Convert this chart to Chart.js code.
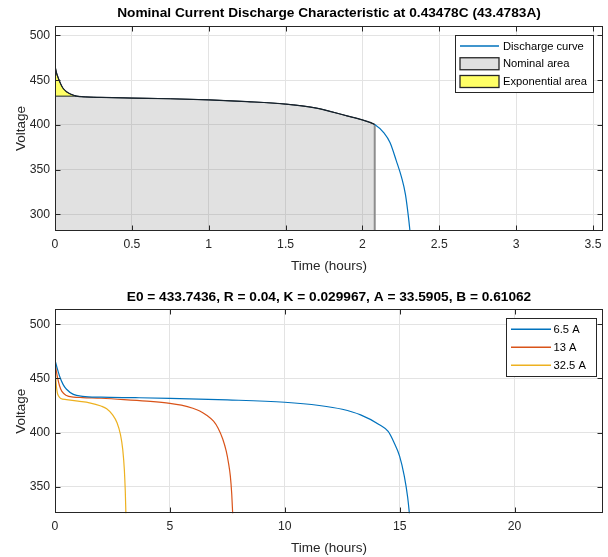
<!DOCTYPE html>
<html><head><meta charset="utf-8">
<script src="https://cdn.jsdelivr.net/npm/chart.js@4/dist/chart.umd.min.js"></script>
<style>html,body{margin:0;padding:0;background:#fff;}canvas{display:block;}</style>
</head><body>
<div style="width:608px;height:557px;">
<canvas id="topChart" width="608" height="280"></canvas>
<canvas id="botChart" width="608" height="277"></canvas>
</div>
<script>
// ---------- data ----------
const topTitle = 'Nominal Current Discharge Characteristic at 0.43478C (43.4783A)';
const botTitle = 'E0 = 433.7436, R = 0.04, K = 0.029967, A = 33.5905, B = 0.61062';
const topHours = [0, 0.01, 0.02, 0.035, 0.05, 0.075, 0.1, 0.14, 0.2, 0.3, 0.5, 0.75, 1.0, 1.25, 1.5, 1.7, 1.9, 2.0, 2.08, 2.14, 2.18, 2.22, 2.255, 2.28, 2.3, 2.31];
const topVolts = [466, 458, 453, 446.5, 441.5, 437, 434.5, 432.1, 431.2, 430.7, 430, 429.2, 428, 426, 423.2, 418.8, 410, 405.5, 400.5, 391, 380, 360, 341, 322, 296, 280];
const nominalEndHour = 2.08;
const expEndHour = 0.14;
const expBoundaryVolt = 432.1;
const topXTicks = [0, 0.5, 1, 1.5, 2, 2.5, 3, 3.5];
const topYTicks = [300, 350, 400, 450, 500];
const topXRange = [0, 3.565];
const topYRange = [281.3, 510.5];

const seriesLabels = ['6.5 A', '13 A', '32.5 A'];
const hours65 = [0, 0.1, 0.2, 0.35, 0.5, 0.8, 1.2, 2, 3.5, 5, 7.5, 10, 11.5, 12.5, 13.3, 14.1, 14.5, 14.75, 15.0, 15.2, 15.35, 15.43];
const volts65 = [467, 459, 452, 444.5, 440, 435.3, 433.5, 432.7, 432.2, 431.6, 430.2, 428, 425, 421.5, 416.3, 407.5, 401, 391, 378, 360, 340, 324];
const hours13 = [0, 0.05, 0.1, 0.2, 0.3, 0.5, 0.8, 1.2, 2, 3, 4, 5, 5.5, 6, 6.3, 6.6, 6.9, 7.1, 7.3, 7.45, 7.55, 7.63, 7.69, 7.735];
const volts13 = [467, 458, 452, 443, 438, 434.2, 432.8, 432.3, 431.7, 430.5, 429, 427, 425.3, 422.5, 420, 416, 410.5, 404, 394, 383, 372, 360, 344, 324];
const hours325 = [0, 0.03, 0.06, 0.1, 0.15, 0.25, 0.5, 1, 1.5, 2, 2.25, 2.5, 2.7, 2.85, 2.95, 3.02, 3.06, 3.087];
const volts325 = [467, 452, 443, 437, 434, 431.5, 430.5, 429, 427.5, 424.5, 422, 416.5, 409, 398, 384, 365, 345, 324];
const botXTicks = [0, 5, 10, 15, 20];
const botYTicks = [350, 400, 450, 500];
const botXRange = [0, 23.85];
const botYRange = [325.4, 513.85];

// ---------- helpers ----------
const FONT = "'Liberation Sans', Arial, Helvetica, sans-serif";
function pts(h, v) { return h.map((x, i) => ({x: x, y: v[i]})); }
const AXIS = '#262626';

const mlFrame = {
  id: 'mlFrame',
  afterDraw(chart, args, o) {
    const {ctx, chartArea: a} = chart;
    const xs = chart.scales.x, ys = chart.scales.y;
    const L = Math.round(a.left) + 0.5, R = Math.round(a.right) - 0.5;
    const T = Math.round(a.top) + 0.5, B = Math.round(a.bottom) - 0.5;
    ctx.save();
    ctx.strokeStyle = AXIS; ctx.lineWidth = 1;
    ctx.beginPath();
    xs.ticks.forEach(t => { const p = Math.round(xs.getPixelForValue(t.value)) + 0.5;
      ctx.moveTo(p, B); ctx.lineTo(p, B - 5); ctx.moveTo(p, T); ctx.lineTo(p, T + 5); });
    ys.ticks.forEach(t => { const p = Math.round(ys.getPixelForValue(t.value)) + 0.5;
      ctx.moveTo(L, p); ctx.lineTo(L + 5, p); ctx.moveTo(R, p); ctx.lineTo(R - 5, p); });
    ctx.stroke();
    ctx.strokeRect(L, T, R - L, B - T);
    // legend
    const lg = o.legend;
    if (lg) {
      const items = chart.data.datasets.filter(d => d.legendKind);
      ctx.fillStyle = '#fff';
      ctx.fillRect(lg.x, lg.y, lg.w, lg.h);
      ctx.strokeStyle = AXIS; ctx.lineWidth = 1;
      ctx.strokeRect(lg.x + 0.5, lg.y + 0.5, lg.w, lg.h);
      items.forEach((d, i) => {
        const cy = lg.y + lg.first + i * lg.step;
        if (d.legendKind === 'line') {
          ctx.strokeStyle = d.legendColor; ctx.lineWidth = 1.5;
          ctx.beginPath(); ctx.moveTo(lg.x + lg.s0, cy); ctx.lineTo(lg.x + lg.s1, cy); ctx.stroke();
        } else {
          ctx.fillStyle = d.legendColor;
          ctx.fillRect(lg.x + lg.s0, cy - 6, lg.s1 - lg.s0, 12);
          ctx.strokeStyle = AXIS; ctx.lineWidth = 1.3;
          ctx.strokeRect(lg.x + lg.s0, cy - 6, lg.s1 - lg.s0, 12);
        }
        ctx.fillStyle = '#000';
        ctx.font = '11.2px ' + FONT;
        ctx.textAlign = 'left'; ctx.textBaseline = 'middle';
        ctx.fillText(d.label, lg.x + lg.tx, cy + 0.5);
      });
    }
    ctx.restore();
  }
};

function axes(xTicks, yTicks, xr, yr, xH, xTitlePad, yTitlePad) {
  return {
    x: {
      type: 'linear', min: xr[0], max: xr[1],
      afterBuildTicks: s => { s.ticks = xTicks.map(v => ({value: v})); },
      afterFit: s => { s.height = xH; },
      grid: {color: '#e3e3e3', lineWidth: 1, drawTicks: false},
      border: {display: false},
      ticks: {padding: 6, color: AXIS, font: {family: FONT, size: 12.2}, maxRotation: 0, autoSkip: false, callback: v => String(v)},
      title: {display: true, text: 'Time (hours)', color: AXIS, font: {family: FONT, size: 13.5}, padding: {top: 0, bottom: xTitlePad}}
    },
    y: {
      type: 'linear', min: yr[0], max: yr[1],
      afterBuildTicks: s => { s.ticks = yTicks.map(v => ({value: v})); },
      afterFit: s => { s.width = 55; },
      grid: {color: '#e3e3e3', lineWidth: 1, drawTicks: false},
      border: {display: false},
      ticks: {padding: 5, color: AXIS, font: {family: FONT, size: 12.2}, autoSkip: false, callback: v => String(v)},
      title: {display: true, text: 'Voltage', color: AXIS, font: {family: FONT, size: 13.5}, padding: {top: yTitlePad, bottom: 0}}
    }
  };
}

// ---------- top chart ----------
const curve = pts(topHours, topVolts);
const nomEndVolt = topVolts[topHours.indexOf(nominalEndHour)];
const expData = curve.filter(p => p.x <= expEndHour);
const nomData = [{x: 0, y: expBoundaryVolt}].concat(curve.filter(p => p.x >= expEndHour && p.x <= nominalEndHour));
const nomEdge = [{x: nominalEndHour, y: topYRange[0]}, {x: nominalEndHour, y: nomEndVolt}];

new Chart(document.getElementById('topChart'), {
  type: 'line',
  data: {
    datasets: [
      {label: 'Discharge curve', legendKind: 'line', legendColor: '#0072BD', data: curve,
       borderColor: '#0072BD', borderWidth: 1.2, pointRadius: 0, fill: false, cubicInterpolationMode: 'monotone',
       segment: {borderColor: c => (c.p1.parsed.x <= nominalEndHour + 1e-9 ? '#16222c' : '#0072BD')}},
      {label: 'Nominal area', legendKind: 'rect', legendColor: '#e0e0e0', data: nomData,
       borderColor: '#16222c', borderWidth: 1, pointRadius: 0, fill: 'start', backgroundColor: 'rgba(128,128,128,0.24)', cubicInterpolationMode: 'monotone'},
      {label: 'Exponential area', legendKind: 'rect', legendColor: '#ffff66', data: expData,
       borderColor: '#16222c', borderWidth: 1, pointRadius: 0, fill: {value: expBoundaryVolt}, backgroundColor: 'rgba(255,255,0,0.6)', cubicInterpolationMode: 'monotone'},
      {label: 'edge', data: nomEdge, borderColor: '#8f8f8f', borderWidth: 2, pointRadius: 0, fill: false, tension: 0}
    ]
  },
  options: {
    responsive: false, animation: false, devicePixelRatio: 1, events: [],
    layout: {padding: {left: 0, right: 5, top: 0, bottom: 0}},
    scales: axes(topXTicks, topYTicks, topXRange, topYRange, 49, 5.4, 13),
    plugins: {
      legend: {display: false}, tooltip: {enabled: false},
      title: {display: true, fullSize: false, text: topTitle, color: '#000', font: {family: FONT, size: 13.7, weight: 'bold'}, padding: {top: 5.2, bottom: 4.4}},
      mlFrame: {legend: {x: 455, y: 35, w: 138, h: 57, first: 11, step: 17.75, s0: 5, s1: 44, tx: 48}}
    }
  },
  plugins: [mlFrame]
});

// ---------- bottom chart ----------
const botColors = ['#0072BD', '#D95319', '#EDB120'];
const botSeries = [pts(hours65, volts65), pts(hours13, volts13), pts(hours325, volts325)];
new Chart(document.getElementById('botChart'), {
  type: 'line',
  data: {
    datasets: botSeries.map((d, i) => ({
      label: seriesLabels[i], legendKind: 'line', legendColor: botColors[i], data: d,
      borderColor: botColors[i], borderWidth: 1.2, pointRadius: 0, fill: false, cubicInterpolationMode: 'monotone'
    }))
  },
  options: {
    responsive: false, animation: false, devicePixelRatio: 1, events: [],
    layout: {padding: {left: 0, right: 5, top: 0, bottom: 0}},
    scales: axes(botXTicks, botYTicks, botXRange, botYRange, 43.7, 0.9, 13),
    plugins: {
      legend: {display: false}, tooltip: {enabled: false},
      title: {display: true, fullSize: false, text: botTitle, color: '#000', font: {family: FONT, size: 13.7, weight: 'bold'}, padding: {top: 9.0, bottom: 3.9}},
      mlFrame: {legend: {x: 506, y: 38, w: 90, h: 58, first: 11.3, step: 18, s0: 5, s1: 45, tx: 47.5}}
    }
  },
  plugins: [mlFrame]
});
</script>
</body></html>
